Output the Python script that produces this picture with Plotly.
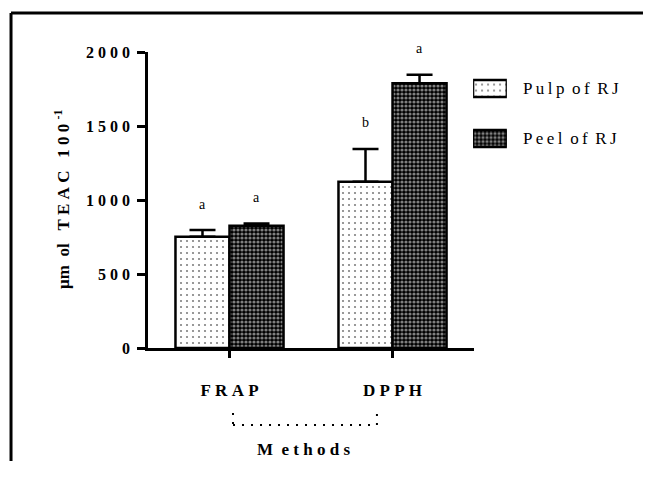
import plotly.graph_objects as go

# ---- data ----
methods = ["FRAP", "DPPH"]
series_names = ["Pulp of RJ", "Peel of RJ"]
pulp_values = [752, 1124]
pulp_errors = [45, 221]
peel_values = [826, 1789]
peel_errors = [16, 58]
pulp_letters = ["a", "b"]
peel_letters = ["a", "a"]
y_ticks = [0, 500, 1000, 1500, 2000]

TS = "\u2009"   # thin space
NB = "\u00a0"   # no-break space


def spaced(s, sep=TS, word=NB + TS):
    return word.join(sep.join(list(w)) for w in s.split(" "))


SERIF = "Liberation Serif, Times New Roman, serif"

pulp_pattern = dict(shape=".", bgcolor="white", fgcolor="black", size=6, solidity=0.1)
peel_pattern = dict(shape=".", bgcolor="black", fgcolor="white", size=4, solidity=0.5)

fig = go.Figure()
for name, vals, errs, pat in [
    (series_names[0], pulp_values, pulp_errors, pulp_pattern),
    (series_names[1], peel_values, peel_errors, peel_pattern),
]:
    fig.add_trace(go.Bar(
        x=methods, y=vals, name=name, showlegend=False,
        marker=dict(color="white", pattern=pat, line=dict(color="black", width=2.5)),
        error_y=dict(type="data", symmetric=False, array=errs,
                     arrayminus=[0] * len(errs), color="black", thickness=2.5, width=13),
    ))

# custom legend swatches (second axes)
for name, pat in [(series_names[0], pulp_pattern), (series_names[1], peel_pattern)]:
    fig.add_trace(go.Bar(
        x=[1], y=[name], orientation="h", xaxis="x2", yaxis="y2", showlegend=False,
        width=0.34, offset=-0.17, hoverinfo="skip",
        marker=dict(color="white", pattern=pat, line=dict(color="black", width=2.5)),
    ))
    fig.add_annotation(x=1, y=name, xref="x2", yref="y2", xanchor="left", yanchor="middle",
                       xshift=14, showarrow=False, text=spaced(name),
                       font=dict(family=SERIF, size=17, color="black"))

# significance letters
for letters, vals, errs, shift in [(pulp_letters, pulp_values, pulp_errors, -27),
                                    (peel_letters, peel_values, peel_errors, 27)]:
    for m, l, v, e in zip(methods, letters, vals, errs):
        fig.add_annotation(x=m, y=v + e, xref="x", yref="y", xshift=shift, yshift=26,
                           showarrow=False, text=l,
                           font=dict(family=SERIF, size=14, color="black"))

# axis titles
ytitle = ("µm" + NB + NB + "ol" + NB * 3 + NB.join("TEAC") + NB * 3 + NB.join("100")
          + NB + "<sup>-1</sup>")
fig.add_annotation(x=0, y=0.5, xref="paper", yref="paper", xshift=-86, textangle=-90,
                   showarrow=False, xanchor="center", yanchor="middle", text=ytitle,
                   font=dict(family=SERIF, size=17, color="black", weight="bold"))
fig.add_annotation(x=0.321, y=-0.343, xref="paper", yref="paper", showarrow=False,
                   xanchor="center", yanchor="middle",
                   text="M" + NB + NB + NB.join("ethods"),
                   font=dict(family=SERIF, size=17, color="black", weight="bold"))

# dotted bracket under categories
bx0, bx1, by0, by1 = 0.176, 0.474, -0.2196, -0.26
for (xa, ya, xb, yb) in [(bx0, by0, bx0, by1), (bx0, by1, bx1, by1), (bx1, by1, bx1, by0)]:
    fig.add_shape(type="line", xref="paper", yref="paper", x0=xa, y0=ya, x1=xb, y1=yb,
                  line=dict(color="black", width=2, dash="2px,7px"))

# outer frame (top and left edges; the rest lies outside the picture)
fig.add_shape(type="line", xref="paper", yref="paper", x0=-0.2836, y0=1.1318, x1=1.0248,
              y1=1.1318, line=dict(color="black", width=3))
fig.add_shape(type="line", xref="paper", yref="paper", x0=-0.2836, y0=1.1318, x1=-0.2836,
              y1=-0.3818, line=dict(color="black", width=3))

fig.update_layout(
    width=635, height=453,
    margin=dict(l=140, r=12, t=44, b=113),
    paper_bgcolor="white", plot_bgcolor="white",
    barmode="group", bargap=0.337, bargroupgap=0,
    font=dict(family=SERIF, color="black"),
    xaxis=dict(domain=[0, 0.675], range=[-0.5, 1.5], showline=True, linecolor="black",
               linewidth=2.5, ticks="outside", ticklen=7, tickwidth=2.5, tickcolor="black",
               tickvals=methods, ticktext=[NB.join(m) for m in methods], ticklabelstandoff=18,
               tickfont=dict(family=SERIF, size=17, color="black", weight="bold"),
               showgrid=False, zeroline=False, fixedrange=True),
    yaxis=dict(range=[0, 2000], showline=True, linecolor="black", linewidth=2.5,
               ticks="outside", ticklen=8, tickwidth=2.5, tickcolor="black",
               tickvals=y_ticks, ticktext=[NB.join(str(t)) for t in y_ticks],
               ticklabelstandoff=4,
               tickfont=dict(family=SERIF, size=16, color="black", weight="bold"),
               showgrid=False, zeroline=False),
    xaxis2=dict(domain=[0.673, 0.743], range=[0, 1], anchor="y2", visible=False),
    yaxis2=dict(domain=[0.623, 0.961], range=[-0.5, 1.5], anchor="x2", visible=False,
                type="category", categoryorder="array",
                categoryarray=[series_names[1], series_names[0]]),
)

fig.write_html("out.html")
